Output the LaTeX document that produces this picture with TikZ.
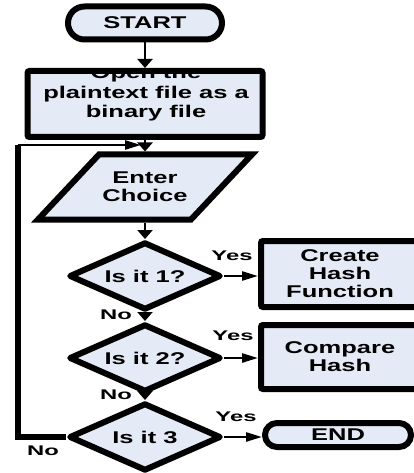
\documentclass[tikz,border=0pt]{standalone}
\usepackage{fontspec}
\newfontfamily\boxfont{Liberation Sans}[FakeStretch=1.5]
\newfontfamily\tagfont{Liberation Sans}[FakeStretch=1.7]
\usetikzlibrary{shapes.geometric,shapes.misc,arrows.meta,calc}
\pgfdeclarelayer{background}
\pgfsetlayers{background,main}
\definecolor{boxfill}{RGB}{228,235,246}

\begin{document}
\begin{tikzpicture}[x=1pt,y=-1pt,
  shapebase/.style={draw=black, fill=boxfill, line width=6pt, inner sep=0pt,
    align=center, font=\boxfont\bfseries\fontsize{17}{18}\selectfont},
  terminal/.style={shapebase, rounded rectangle},
  procbox/.style={shapebase, rectangle, rounded corners=2pt},
  decision/.style={shapebase, diamond, aspect=2.2, line join=round,
    minimum width=152pt, minimum height=68pt},
  slantbox/.style={draw=black, fill=boxfill, line width=6pt, line join=miter},
  tag/.style={font=\tagfont\bfseries\fontsize{14}{16}\selectfont, inner sep=0pt},
  conn/.style={line width=2.5pt, -{Triangle[length=9pt,width=15pt]}},
  hconn/.style={line width=2.5pt, -{Triangle[length=16pt,width=9pt]}},
  loopline/.style={line width=6pt},
]
\useasboundingbox (0,0) rectangle (414,473);
\begin{pgfonlayer}{background}
  \fill[white] (0,0) rectangle (414,473);
\end{pgfonlayer}
\clip (0,0) rectangle (414,473);

% terminals and process boxes
\node[terminal, minimum width=154pt, minimum height=33pt] (start) at (145,23) {START};
\node[procbox, minimum width=235pt, minimum height=66pt] (open) at (145,104) {};
\begin{scope}
  \clip ([xshift=6pt,yshift=-6pt]open.north west) rectangle ([xshift=-6pt,yshift=6pt]open.south east);
  \node[align=center, inner sep=0pt, font=\boxfont\bfseries\fontsize{17}{19.5}\selectfont]
    (openText) at (146,94) {Open the\\plaintext file as a\\binary file};
\end{scope}

% input parallelogram: text node plus slanted outline behind it
\node[shapebase, draw=none, fill=none, rectangle, minimum width=153pt, minimum height=65pt]
  (choice) at (145,187) {Enter\\Choice};
\begin{pgfonlayer}{background}
  \filldraw[slantbox] ($(choice.center)+(-107,32.5)$) -- ($(choice.center)+(46,32.5)$)
    -- ($(choice.center)+(107,-32.5)$) -- ($(choice.center)+(-46,-32.5)$) -- cycle;
\end{pgfonlayer}

% decisions
\node[decision] (d1) at (145,276) {Is it 1?};
\node[decision] (d2) at (145,358) {Is it 2?};
\node[decision] (d3) at (145,437) {Is it 3};

% actions on the right
\node[procbox, minimum width=158pt, minimum height=66pt] (hash) at (340,274) {Create\\Hash\\Function};
\node[procbox, minimum width=158pt, minimum height=64pt] (cmp) at (340,357) {Compare\\Hash};
\node[terminal, minimum width=146pt, minimum height=24pt] (finish) at (338,435) {END};

% main flow
\draw[conn] (start.south) -- (open.north);
\draw[conn] (open.south) -- (choice.north);
\draw[conn] (choice.south) -- (d1.north);
\draw[conn] (d1.south) -- (d2.north);
\draw[conn] (d2.south) -- (d3.north);
\draw[hconn] (d1.east) -- (d1.east -| hash.west);
\draw[hconn] (d2.east) -- (d2.east -| cmp.west);
\draw[hconn] (d3.east) -- (d3.east -| finish.west);

% loop back to the choice
\coordinate (loopCorner) at (18,145);
\coordinate (loopEnd) at (141,145);
\draw[loopline] (d3.west) -| (loopCorner);
\draw[hconn] (loopCorner) -- (loopEnd);

% branch labels
\node[tag] (yes1) at (232,256) {Yes};
\node[tag] (yes2) at (233,336) {Yes};
\node[tag] (yes3) at (236,417) {Yes};
\node[tag] (no1) at (116,315) {No};
\node[tag] (no2) at (116,395) {No};
\node[tag] (no3) at (43,451) {No};
\end{tikzpicture}
\end{document}
